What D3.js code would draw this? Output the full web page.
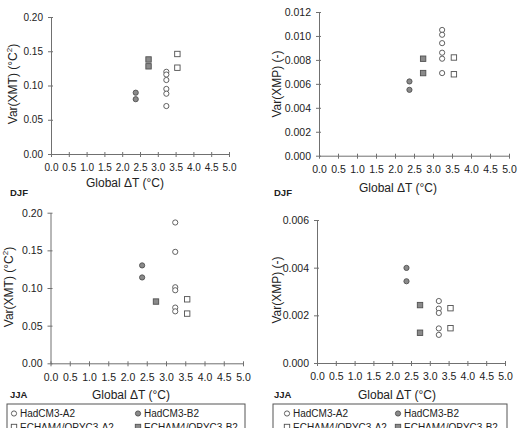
<!DOCTYPE html>
<html><head><meta charset="utf-8">
<script src="https://cdn.jsdelivr.net/npm/d3@7"></script>
<style>
body{margin:0;background:#fff;}
svg{font-family:"Liberation Sans",Arial,sans-serif;}
</style></head>
<body><svg id="c" width="520" height="428"></svg>
<script>
// ---- data ----
const seriesNames = ["HadCM3-A2","HadCM3-B2","ECHAM4/OPYC3-A2","ECHAM4/OPYC3-B2"];
const globalDT = [3.24, 2.38, 3.55, 2.74]; // global ΔT (°C) per series
const xTicks = [0,0.5,1,1.5,2,2.5,3,3.5,4,4.5,5];

// DJF temperature variance
const djfXMT_hadA2 = [0.120, 0.116, 0.108, 0.095, 0.088, 0.070];
const djfXMT_hadB2 = [0.0895, 0.080];
const djfXMT_echA2 = [0.146, 0.126];
const djfXMT_echB2 = [0.138, 0.128];
// DJF precipitation variance
const djfXMP_hadA2 = [0.0105, 0.0101, 0.0094, 0.0086, 0.0081, 0.0069];
const djfXMP_hadB2 = [0.0062, 0.0055];
const djfXMP_echA2 = [0.0082, 0.0068];
const djfXMP_echB2 = [0.0081, 0.0069];
// JJA temperature variance
const jjaXMT_hadA2 = [0.187, 0.148, 0.101, 0.097, 0.074, 0.069];
const jjaXMT_hadB2 = [0.130, 0.114];
const jjaXMT_echA2 = [0.085, 0.066];
const jjaXMT_echB2 = [0.082];
// JJA precipitation variance
const jjaXMP_hadA2 = [0.00260, 0.00228, 0.00210, 0.00145, 0.00118];
const jjaXMP_hadB2 = [0.00399, 0.00343];
const jjaXMP_echA2 = [0.00230, 0.00146];
const jjaXMP_echB2 = [0.00243, 0.00127];

const yTicksXMT = [0,0.05,0.10,0.15,0.20];
const yTicksXMPdjf = [0,0.002,0.004,0.006,0.008,0.010,0.012];
const yTicksXMPjja = [0,0.002,0.004,0.006];

// ---- layout ----
const svg = d3.select("#c");
const axisCol = "#707070";
const panels = [
  {x0:51, x1:229, yT:17, yB:154, dom:[0,0.2], yt:yTicksXMT, fmt:".2f", fs:10,
   data:[djfXMT_hadA2,djfXMT_hadB2,djfXMT_echA2,djfXMT_echB2],
   ylab:["Var(XMT) (°C","2",")"], ylx:13, yly:84, xlx:125, xly:187, season:"DJF", sx:10, sy:196},
  {x0:319, x1:509, yT:12, yB:155.7, dom:[0,0.012], yt:yTicksXMPdjf, fmt:".3f", fs:10.5,
   data:[djfXMP_hadA2,djfXMP_hadB2,djfXMP_echA2,djfXMP_echB2],
   ylab:["Var(XMP) (-)"], ylx:277, yly:84, xlx:398, xly:192, season:"DJF", sx:274, sy:196},
  {x0:50.5, x1:243, yT:212.7, yB:363.3, dom:[0,0.2], yt:yTicksXMT, fmt:".2f", fs:10.5,
   data:[jjaXMT_hadA2,jjaXMT_hadB2,jjaXMT_echA2,jjaXMT_echB2],
   ylab:["Var(XMT) (°C","2",")"], ylx:9, yly:287, xlx:131, xly:399, season:"JJA", sx:10, sy:398},
  {x0:317, x1:505, yT:220, yB:363, dom:[0,0.006], yt:yTicksXMPjja, fmt:".3f", fs:10.5,
   data:[jjaXMP_hadA2,jjaXMP_hadB2,jjaXMP_echA2,jjaXMP_echB2],
   ylab:["Var(XMP) (-)"], ylx:277, yly:290, xlx:397, xly:399, season:"JJA", sx:274, sy:398}
];

const styles = [
  {shape:"circle", fill:"#fff"},
  {shape:"circle", fill:"#8a8a8a"},
  {shape:"square", fill:"#fff"},
  {shape:"square", fill:"#8a8a8a"}
];
const markStroke = "#505050";

function drawMarker(g, shape, fill, cx, cy){
  if(shape==="circle"){
    g.append("circle").attr("cx",cx).attr("cy",cy).attr("r",2.6)
      .attr("fill",fill).attr("stroke",markStroke).attr("stroke-width",0.9);
  } else {
    g.append("rect").attr("x",cx-2.7).attr("y",cy-2.7).attr("width",5.4).attr("height",5.4)
      .attr("fill",fill).attr("stroke",markStroke).attr("stroke-width",0.9);
  }
}

panels.forEach(p=>{
  const x = d3.scaleLinear().domain([0,5]).range([p.x0,p.x1]);
  const y = d3.scaleLinear().domain(p.dom).range([p.yB,p.yT]);
  const g = svg.append("g");
  // x axis
  const xa = g.append("g").attr("transform",`translate(0,${p.yB})`)
    .call(d3.axisBottom(x).tickValues(xTicks).tickFormat(d3.format(".1f")).tickSizeInner(3).tickSizeOuter(0).tickPadding(7));
  xa.selectAll(".tick line").attr("y1",-2);
  // y axis
  const ya = g.append("g").attr("transform",`translate(${p.x0},0)`)
    .call(d3.axisLeft(y).tickValues(p.yt).tickFormat(d3.format(p.fmt)).tickSizeInner(3).tickSizeOuter(0).tickPadding(5));
  ya.selectAll(".tick line").attr("x1",2);
  [xa,ya].forEach(a=>{
    a.select(".domain").attr("stroke",axisCol);
    a.selectAll(".tick line").attr("stroke",axisCol);
    a.selectAll("text").attr("fill","#222").style("font-size",p.fs+"px").style("font-family","'Liberation Sans',Arial,sans-serif");
  });
  // points
  p.data.forEach((vals,si)=>{
    vals.forEach(v=>drawMarker(g, styles[si].shape, styles[si].fill, x(globalDT[si]), y(v)));
  });
  // y label
  const yl = g.append("text").attr("transform",`translate(${p.ylx},${p.yly}) rotate(-90)`)
    .attr("text-anchor","middle").attr("dominant-baseline","central")
    .style("font-size","12px").attr("fill","#222");
  yl.append("tspan").text(p.ylab[0]);
  if(p.ylab.length>1){
    yl.append("tspan").text(p.ylab[1]).attr("dy",-4).style("font-size","8px");
    yl.append("tspan").text(p.ylab[2]).attr("dy",4);
  }
  // x label
  g.append("text").attr("x",p.xlx).attr("y",p.xly).attr("text-anchor","middle")
    .style("font-size","12px").attr("fill","#222").text("Global ΔT (°C)");
  // season
  g.append("text").attr("x",p.sx).attr("y",p.sy).style("font-size","9.5px").style("font-weight","bold")
    .attr("fill","#222").text(p.season);
});

// legends
const legends = [{x:7,y:404,w:238,c1:14,c2:138},{x:273,y:404,w:234,c1:287,c2:398}];
legends.forEach(L=>{
  const g = svg.append("g");
  g.append("rect").attr("x",L.x).attr("y",L.y).attr("width",L.w).attr("height",40)
    .attr("fill","#fff").attr("stroke","#555").attr("stroke-width",1);
  seriesNames.forEach((n,i)=>{
    const cx = i%2===0 ? L.c1 : L.c2;
    const cy = L.y + 9.5 + Math.floor(i/2)*13.5;
    drawMarker(g, styles[i].shape, styles[i].fill, cx, cy);
    g.append("text").attr("x",cx+6).attr("y",cy).attr("dominant-baseline","central")
      .style("font-size","10px").attr("fill","#222").text(n);
  });
});
</script></body></html>
